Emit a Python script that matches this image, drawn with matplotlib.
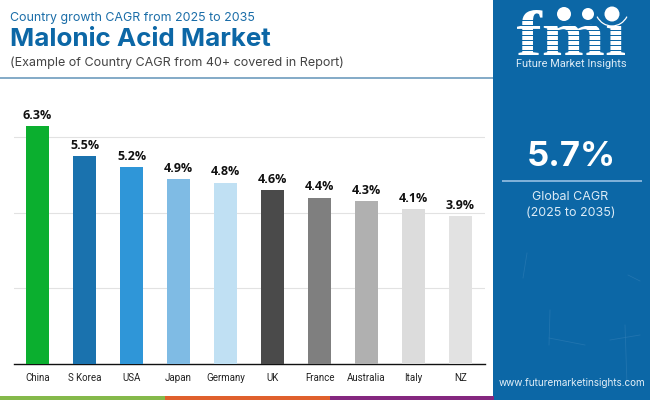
import matplotlib
matplotlib.use("Agg")
import matplotlib.pyplot as plt
from matplotlib.patches import Rectangle, Circle, Arc, PathPatch
from matplotlib.lines import Line2D
from matplotlib.textpath import TextPath
from matplotlib.font_manager import FontProperties
from matplotlib.transforms import Affine2D

countries = ["China", "S Korea", "USA", "Japan", "Germany", "UK", "France", "Australia", "Italy", "NZ"]
cagr = [6.3, 5.5, 5.2, 4.9, 4.8, 4.6, 4.4, 4.3, 4.1, 3.9]
bar_colors = ["#0BAF2F", "#1A72AE", "#2F96D8", "#7FBBE4", "#C0E0F3",
              "#4A4A4A", "#7F7F7F", "#B0B0B0", "#DCDCDC", "#E2E2E2"]
y_grid = [2, 4, 6]

W, H = 650, 400
BLUE = "#0C67A6"
FONT = ["Inter", "DejaVu Sans"]

fig = plt.figure(figsize=(6.5, 4), dpi=100, facecolor="white")

def fx(x): return x / W
def fy(y): return 1 - y / H

def frect(x0, y0, x1, y1, color, z=1):
    fig.add_artist(Rectangle((fx(x0), fy(y1)), (x1 - x0) / W, (y1 - y0) / H,
                             transform=fig.transFigure, facecolor=color, edgecolor="none", zorder=z))

def ftext(x, y, s, **kw):
    kw.setdefault("family", FONT)
    kw.setdefault("va", "center")
    fig.text(fx(x), fy(y), s, **kw)

# chart
ax = fig.add_axes([14 / W, 1 - 363.5 / H, 471 / W, 263.5 / H])
ax.set_xlim(-0.5, 9.52)
ax.set_ylim(0, 263.5 / 37.7)
ax.bar(range(len(cagr)), cagr, width=0.49, color=bar_colors, zorder=3)
for i, v in enumerate(cagr):
    ax.annotate(f"{v}%", (i, v), xytext=(0, 3), textcoords="offset points", ha="center", va="bottom",
                fontsize=9, fontweight="bold", family="Open Sans", color="#111111", zorder=4)
ax.set_yticks(y_grid)
ax.tick_params(axis="y", length=0, labelleft=False)
ax.set_xticks(range(len(cagr)))
ax.set_xticklabels(countries, fontsize=7, family="Roboto", color="#222222")
ax.tick_params(axis="x", length=0, pad=6.5)
ax.grid(axis="y", color="#E2E2E2", lw=0.8, zorder=0)
for s in ["top", "left", "right"]:
    ax.spines[s].set_visible(False)
ax.spines["bottom"].set_color("#111111")
ax.spines["bottom"].set_linewidth(1.0)
ax.patch.set_alpha(0)

# header
ftext(10.5, 18, "Country growth CAGR from 2025 to 2035", fontsize=8.95, color="#1A6DA8")
ftext(10.5, 40, "Malonic Acid Market", fontsize=18.7, fontweight="bold", color=BLUE)
ftext(10.5, 63, "(Example of Country CAGR from 40+ covered in Report)", fontsize=9.05, color="#444444")
frect(0, 77, 493, 79, "#86ACC8")

# bottom strip
frect(0, 396, 165, 400, "#85B94A")
frect(165, 396, 330, 400, "#E0602D")
frect(330, 396, 494, 400, "#85277F")

# right panel
frect(493, 0, 650, 400, BLUE, z=0)
frect(502, 180, 642, 182, "#7FB0D8", z=2)
ftext(571.5, 157, "5.7%", fontsize=25, fontweight="bold", color="white", ha="center")
ftext(570, 197, "Global CAGR", fontsize=9.0, color="#DCEBF6", ha="center")
ftext(571, 213, "(2025 to 2035)", fontsize=9.0, color="#DCEBF6", ha="center")
ftext(572, 383, "www.futuremarketinsights.com", fontsize=7.15, color="#E4F0F8", ha="center")

# faint panel scratches
for x0, y0, x1, y1 in [(527, 253, 523, 278), (625, 325, 627, 385), (549, 338, 585, 345),
                       (628, 275, 640, 281), (550, 310, 549, 345), (610, 340, 640, 335)]:
    fig.add_artist(Line2D([fx(x0), fx(x1)], [fy(y0), fy(y1)], transform=fig.transFigure,
                          color="#2F7DB5", lw=0.6, alpha=0.6, zorder=1))

# logo, drawn on an overlay in pixel coordinates
lg = fig.add_axes([0, 0, 1, 1], zorder=10)
lg.set_xlim(0, W)
lg.set_ylim(H, 0)
lg.axis("off")
tp = TextPath((0, 0), "fm\u0131", size=10, prop=FontProperties(family="Liberation Serif", weight="bold"))
bb = tp.get_extents()
x0, y0, x1, y1 = 517, 10, 625, 55
tr = Affine2D().translate(-bb.x0, -bb.y1).scale((x1 - x0) / bb.width, -(y1 - y0) / bb.height).translate(x0, y0)
lg.add_patch(PathPatch(tr.transform_path(tp), facecolor="white", edgecolor="none", zorder=1))
for y in range(20, 55, 5):
    lg.add_patch(Rectangle((515, y), 113, 1.2, facecolor=BLUE, edgecolor="none", zorder=2))
for cx, cy, r in [(564, 14, 7), (588, 14, 6), (612, 14, 7.5)]:
    lg.add_patch(Circle((cx, cy), r, facecolor="white", edgecolor="none", zorder=3))
lg.add_patch(Arc((612, 8), 34, 36, theta1=30, theta2=150, edgecolor="white", lw=0.9, zorder=3))
lg.text(571, 64, "Future Market Insights", fontsize=7.9, color="#DCEBF6", ha="center", va="center", family="Roboto")

fig.savefig("out.png", dpi=100, facecolor="white")
